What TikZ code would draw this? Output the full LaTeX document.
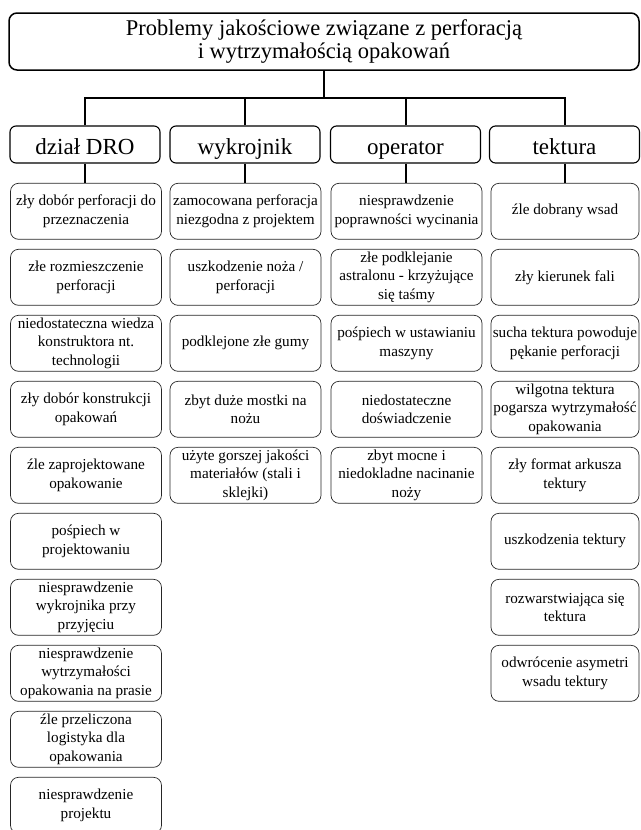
\documentclass[tikz,border=0pt]{standalone}
\usepackage{fontspec}
\setmainfont{Liberation Serif}
\begin{document}
\begin{tikzpicture}[x=1pt,y=-1pt,
  titlebox/.style={draw=black,line width=1.5pt,rounded corners=8pt,minimum width=630pt,minimum height=57pt,align=center,inner sep=0pt,font=\fontsize{22.5}{23.5}\selectfont},
  catbox/.style={draw=black,line width=1.1pt,rounded corners=6pt,minimum width=150pt,minimum height=37pt,align=center,inner sep=0pt,text height=20pt,text depth=1pt,font=\fontsize{23}{25}\selectfont},
  itembox/.style={draw=black!85,line width=0.7pt,rounded corners=8pt,minimum width=151pt,minimum height=56pt,align=center,inner sep=0pt,font=\fontsize{15.2}{18.3}\selectfont},
  conn/.style={draw=black,line width=2pt}]
\useasboundingbox (0,0) rectangle (640,830);
% title
\node[titlebox] (title) at (324,41.5) {Problemy jakościowe związane z perforacją\\i wytrzymałością opakowań};
% categories
\node[catbox] (dro) at (85,144.5) {dział DRO};
\node[catbox] (wyk) at (245,144.5) {wykrojnik};
\node[catbox] (op) at (405.5,144.5) {operator};
\node[catbox] (tek) at (564.5,144.5) {tektura};
% column 1
\node[itembox] (d1) at (86,211.3) {zły dobór perforacji do\\przeznaczenia};
\node[itembox] (d2) at (86,277.3) {złe rozmieszczenie\\perforacji};
\node[itembox] (d3) at (86,343.3) {niedostateczna wiedza\\konstruktora nt.\\technologii};
\node[itembox] (d4) at (86,409.3) {zły dobór konstrukcji\\opakowań};
\node[itembox] (d5) at (86,475.3) {źle zaprojektowane\\opakowanie};
\node[itembox] (d6) at (86,541.3) {pośpiech w\\projektowaniu};
\node[itembox] (d7) at (86,607.3) {niesprawdzenie\\wykrojnika przy\\przyjęciu};
\node[itembox] (d8) at (86,673.3) {niesprawdzenie\\wytrzymałości\\opakowania na prasie};
\node[itembox] (d9) at (86,739.3) {źle przeliczona\\logistyka dla\\opakowania};
\node[itembox] (d10) at (86,805.3) {niesprawdzenie\\projektu};
% column 2
\node[itembox] (w1) at (245.5,211.3) {zamocowana perforacja\\niezgodna z projektem};
\node[itembox] (w2) at (245.5,277.3) {uszkodzenie noża /\\perforacji};
\node[itembox] (w3) at (245.5,343.3) {podklejone złe gumy};
\node[itembox] (w4) at (245.5,409.3) {zbyt duże mostki na\\nożu};
\node[itembox] (w5) at (245.5,475.3) {użyte gorszej jakości\\materiałów (stali i\\sklejki)};
% column 3
\node[itembox] (o1) at (406.5,211.3) {niesprawdzenie\\poprawności wycinania};
\node[itembox] (o2) at (406.5,277.3) {złe podklejanie\\astralonu - krzyżujące\\się taśmy};
\node[itembox] (o3) at (406.5,343.3) {pośpiech w ustawianiu\\maszyny};
\node[itembox] (o4) at (406.5,409.3) {niedostateczne\\doświadczenie};
\node[itembox] (o5) at (406.5,475.3) {zbyt mocne i\\niedokladne nacinanie\\noży};
% column 4
\node[itembox,minimum width=148pt] (t1) at (565,211.3) {źle dobrany wsad};
\node[itembox,minimum width=148pt] (t2) at (565,277.3) {zły kierunek fali};
\node[itembox,minimum width=148pt] (t3) at (565,343.3) {sucha tektura powoduje\\pękanie perforacji};
\node[itembox,minimum width=148pt] (t4) at (565,409.3) {wilgotna tektura\\pogarsza wytrzymałość\\opakowania};
\node[itembox,minimum width=148pt] (t5) at (565,475.3) {zły format arkusza\\tektury};
\node[itembox,minimum width=148pt] (t6) at (565,541.3) {uszkodzenia tektury};
\node[itembox,minimum width=148pt] (t7) at (565,607.3) {rozwarstwiająca się\\tektura};
\node[itembox,minimum width=148pt] (t8) at (565,673.3) {odwrócenie asymetri\\wsadu tektury};
% connectors
\coordinate (bar) at (0,98);
\draw[conn] (title.south) -- (title.south |- bar);
\draw[conn] (dro.north) -- (dro.north |- bar) -- (tek.north |- bar) -- (tek.north);
\draw[conn] (wyk.north) -- (wyk.north |- bar);
\draw[conn] (op.north) -- (op.north |- bar);
\draw[conn] (dro.south) -- (dro.south |- d1.north);
\draw[conn] (wyk.south) -- (wyk.south |- w1.north);
\draw[conn] (op.south) -- (op.south |- o1.north);
\draw[conn] (tek.south) -- (tek.south |- t1.north);
\end{tikzpicture}
\end{document}
